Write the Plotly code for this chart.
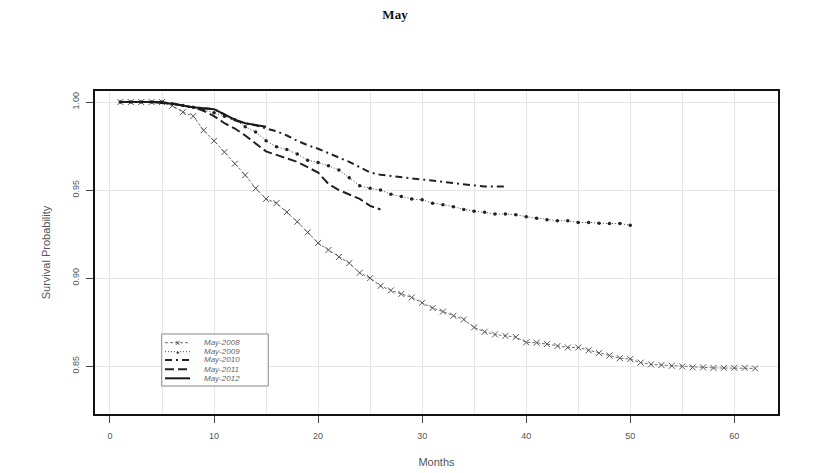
import plotly.graph_objects as go

#Survival estimates per cohort, read off month by month
months2008 = list(range(1, 63))
surv2008 = [1.000, 1.000, 1.000, 1.000, 1.000, 0.998, 0.9943, 0.992, 0.984, 0.978,
            0.9716, 0.965, 0.9585, 0.951, 0.945, 0.9426, 0.9375, 0.932, 0.926, 0.920,
            0.916, 0.912, 0.9085, 0.903, 0.900, 0.8956, 0.893, 0.891, 0.889, 0.886,
            0.883, 0.881, 0.8786, 0.8765, 0.872, 0.8695, 0.868, 0.8672, 0.8665, 0.8635,
            0.8633, 0.8625, 0.8614, 0.8606, 0.8606, 0.859, 0.8574, 0.856, 0.8545, 0.854,
            0.852, 0.851, 0.8506, 0.8502, 0.8498, 0.8493, 0.8493, 0.849, 0.849, 0.849,
            0.849, 0.8487]

months2009 = list(range(1, 51))
surv2009 = [1.000, 1.000, 1.000, 1.000, 1.000, 0.999, 0.998, 0.997, 0.9955, 0.994,
            0.992, 0.990, 0.986, 0.983, 0.978, 0.9746, 0.973, 0.9705, 0.967, 0.9657,
            0.9638, 0.9614, 0.957, 0.9525, 0.951, 0.950, 0.9477, 0.9464, 0.945, 0.9445,
            0.9426, 0.9417, 0.9406, 0.939, 0.938, 0.9374, 0.9364, 0.9364, 0.936, 0.9349,
            0.934, 0.9332, 0.9326, 0.9326, 0.9316, 0.9316, 0.9312, 0.931, 0.931, 0.930]

months2010 = list(range(1, 39))
surv2010 = [1.000, 1.000, 1.000, 1.000, 1.000, 0.999, 0.998, 0.997, 0.9965, 0.996,
            0.993, 0.9895, 0.988, 0.9868, 0.985, 0.9835, 0.981, 0.978, 0.9755, 0.9735,
            0.971, 0.9687, 0.966, 0.963, 0.960, 0.9587, 0.958, 0.9572, 0.9565, 0.956,
            0.9555, 0.9548, 0.954, 0.953, 0.9525, 0.952, 0.952, 0.952]

months2011 = list(range(1, 27))
surv2011 = [1.000, 1.000, 1.000, 1.000, 1.000, 0.999, 0.998, 0.997, 0.995, 0.992,
            0.988, 0.985, 0.981, 0.9765, 0.972, 0.970, 0.968, 0.966, 0.963, 0.960,
            0.9535, 0.950, 0.9475, 0.945, 0.941, 0.939]

months2012 = list(range(1, 16))
surv2012 = [1.000, 1.000, 1.000, 1.000, 0.9995, 0.999, 0.998, 0.997, 0.9965, 0.996,
            0.993, 0.990, 0.988, 0.987, 0.986]

seriesNames = ["May-2008", "May-2009", "May-2010", "May-2011", "May-2012"]
xTicks = [0, 10, 20, 30, 40, 50, 60]
yTicks = [0.85, 0.90, 0.95, 1.00]

#line style per series: colour, width, dash, marker symbol (None = no marker)
styles = [
    ("#6e6e6e", 1, "3px,2px", "x-thin"),
    ("#444444", 1, "1px,2px", "circle"),
    ("#222222", 2, "7px,4px,2px,4px", None),
    ("#222222", 2, "9px,4px", None),
    ("#1a1a1a", 2, "solid", None),
]
allMonths = [months2008, months2009, months2010, months2011, months2012]
allSurv = [surv2008, surv2009, surv2010, surv2011, surv2012]

fig = go.Figure()
for name, xs, ys, (col, w, dash, sym) in zip(seriesNames, allMonths, allSurv, styles):
    if sym == "x-thin":
        mk = dict(symbol=sym, size=6, line=dict(color="#555555", width=1))
    elif sym == "circle":
        mk = dict(symbol=sym, size=3.5, color="#222222")
    else:
        mk = None
    fig.add_trace(go.Scatter(x=xs, y=ys, name=name, mode="lines+markers" if mk else "lines",
                             line=dict(color=col, width=w, dash=dash), marker=mk,
                             showlegend=False))

#hand drawn legend box (plotly's own legend rows are too tall for this one)
legShapes = [dict(type="rect", xref="paper", yref="paper", x0=0.0977, x1=0.2537,
                  y0=0.0867, y1=0.2477, line=dict(color="#888888", width=1),
                  fillcolor="#ffffff", layer="above")]
legNotes = []
rowY = [0.2207, 0.1929, 0.1672, 0.1384, 0.1105]
for name, yy, (col, w, dash, sym) in zip(seriesNames, rowY, styles):
    legShapes.append(dict(type="line", xref="paper", yref="paper", x0=0.1025, x1=0.1391,
                          y0=yy, y1=yy, line=dict(color=col, width=w, dash=dash),
                          layer="above"))
    if sym == "x-thin":
        legNotes.append(dict(x=0.1215, y=yy, xref="paper", yref="paper", text="×",
                             xanchor="center", yanchor="middle", showarrow=False,
                             font=dict(size=9, color="#444444")))
    elif sym == "circle":
        legNotes.append(dict(x=0.1215, y=yy, xref="paper", yref="paper", text="●",
                             xanchor="center", yanchor="middle", showarrow=False,
                             font=dict(size=5, color="#222222")))
    legNotes.append(dict(x=0.1562, y=yy, xref="paper", yref="paper", text="<i>" + name + "</i>",
                         xanchor="left", yanchor="middle", showarrow=False,
                         font=dict(size=8, color="#666666", family="Liberation Sans")))

fig.update_layout(
    width=817, height=473,
    #page is drawn 8px in from the corner, margins allow for that
    margin=dict(l=87, r=47, t=83, b=67),
    plot_bgcolor="#ffffff",
    paper_bgcolor="#ffffff",
    font=dict(family="Liberation Sans", size=9, color="#555555"),
    title=dict(text="<b>May</b>", x=0.4737, xanchor="center", y=0.987, yanchor="middle",
               font=dict(family="Liberation Serif", size=13, color="#111111")),
    showlegend=False,
    shapes=legShapes,
    annotations=legNotes,
)
fig.update_xaxes(
    range=[-1.44, 64.2], tickvals=xTicks, ticks="outside", ticklen=7, tickcolor="#444444",
    ticklabelstandoff=5,
    showgrid=True, gridcolor="#e6e6e6", gridwidth=1,
    minor=dict(dtick=5, tick0=0, showgrid=True, gridcolor="#e6e6e6"),
    showline=True, linecolor="#111111", linewidth=2, mirror=True, zeroline=False,
    title_text="Months", title_standoff=19,
)
fig.update_yaxes(
    range=[0.8228, 1.0063], tickvals=yTicks, tickformat=".2f", tickangle=-90,
    ticks="outside", ticklen=7, tickcolor="#444444", ticklabelstandoff=3,
    showgrid=True, gridcolor="#e6e6e6", gridwidth=1,
    showline=True, linecolor="#111111", linewidth=2, mirror=True, zeroline=False,
    title_text="Survival Probability", title_standoff=19,
)
fig.write_html("out.html")
